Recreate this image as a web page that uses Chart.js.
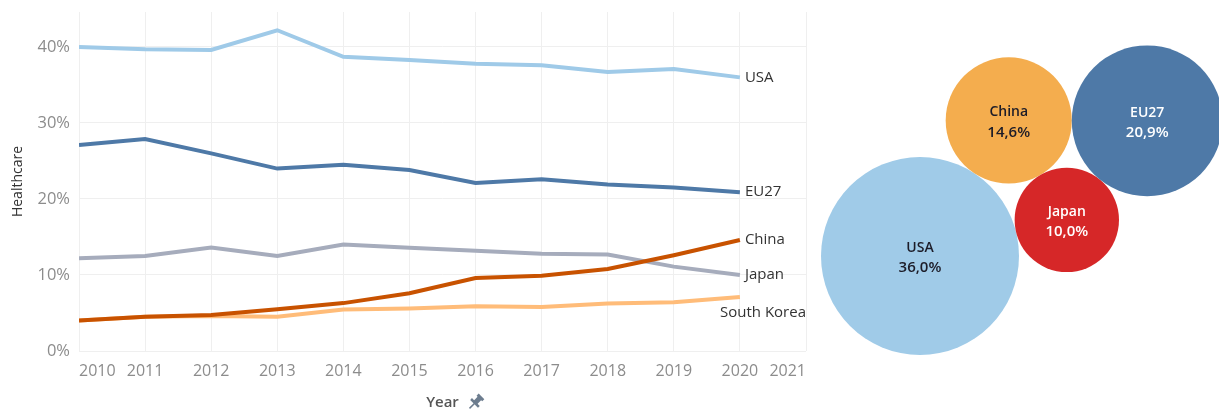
<!DOCTYPE html>
<html lang="en">
<head>
<meta charset="UTF-8">
<title>Healthcare share</title>
<style>
  body { margin: 0; background: #fff; }
  #lineChart { position: absolute; left: 0; top: 0; }
  #bubbleChart { position: absolute; left: 812px; top: 0; }
</style>
</head>
<body>
<canvas id="lineChart" width="812" height="410"></canvas>
<canvas id="bubbleChart" width="407" height="410"></canvas>

<script src="https://cdn.jsdelivr.net/npm/chart.js"></script>
<script>
// data (share of healthcare, %)
const years = [2010, 2011, 2012, 2013, 2014, 2015, 2016, 2017, 2018, 2019, 2020];
const usa = [40.0, 39.7, 39.6, 42.2, 38.7, 38.3, 37.8, 37.6, 36.7, 37.1, 36.0];
const eu27 = [27.1, 27.9, 26.0, 24.0, 24.5, 23.8, 22.1, 22.6, 21.9, 21.5, 20.9];
const china = [4.0, 4.5, 4.75, 5.5, 6.3, 7.6, 9.6, 9.9, 10.8, 12.6, 14.6];
const japan = [12.2, 12.5, 13.6, 12.5, 14.0, 13.6, 13.2, 12.8, 12.7, 11.1, 10.0];
const southKorea = [4.0, 4.5, 4.6, 4.5, 5.45, 5.6, 5.9, 5.8, 6.25, 6.4, 7.1];
const yTicks = [0, 10, 20, 30, 40];

// bubbles show the latest year
const bubbleNames = ['USA', 'China', 'Japan', 'EU27'];

Chart.defaults.font.family = "'Open Sans', sans-serif";
Chart.defaults.animation = false;

const colors = {
  'USA': '#9fcae8',
  'EU27': '#4e79a7',
  'China': '#c85200',
  'Japan': '#a6acbc',
  'South Korea': '#ffbc79'
};
const bubbleColors = { 'USA': '#a0cbe8', 'China': '#f4ad4e', 'Japan': '#d62728', 'EU27': '#4e79a7' };
const bubbleText = { 'USA': '#1c1c28', 'China': '#1c1c28', 'Japan': '#ffffff', 'EU27': '#ffffff' };

const seriesByName = { 'USA': usa, 'EU27': eu27, 'China': china, 'Japan': japan, 'South Korea': southKorea };
const lineOrder = ['USA', 'EU27', 'China', 'Japan', 'South Korea'];

function makeDataset(name) {
  return {
    label: name,
    data: years.map((y, i) => ({ x: y, y: seriesByName[name][i] })),
    borderColor: colors[name],
    borderWidth: 4,
    pointRadius: 0,
    tension: 0,
    fill: false
  };
}

// labels at the end of each line + pin next to axis title
const endLabels = {
  id: 'endLabels',
  afterDatasetsDraw(chart) {
    const ctx = chart.ctx;
    const area = chart.chartArea;
    ctx.save();
    ctx.font = "15px 'Open Sans'";
    ctx.fillStyle = '#333';
    ctx.textBaseline = 'middle';
    chart.data.datasets.forEach((ds, i) => {
      const pts = chart.getDatasetMeta(i).data;
      const p = pts[pts.length - 1];
      if (ds.label === 'South Korea') {
        ctx.textAlign = 'right';
        ctx.fillText(ds.label, area.right, p.y + 16);
      } else {
        ctx.textAlign = 'left';
        ctx.fillText(ds.label, p.x + 5, p.y);
      }
    });

    // little pushpin after "Year"
    ctx.font = "600 15px 'Open Sans'";
    const w = ctx.measureText('Year').width;
    const px = (area.left + area.right) / 2 + w / 2 + 17;
    const py = 402;
    ctx.translate(px, py);
    ctx.rotate(Math.PI / 4);
    ctx.fillStyle = '#6d7d8f';
    ctx.strokeStyle = '#6d7d8f';
    ctx.fillRect(-4, -8, 8, 3);
    ctx.fillRect(-2.5, -6, 5, 7);
    ctx.fillRect(-5.5, 0, 11, 2.5);
    ctx.lineWidth = 1.5;
    ctx.beginPath();
    ctx.moveTo(0, 2);
    ctx.lineTo(0, 9);
    ctx.stroke();
    ctx.restore();
  }
};

new Chart(document.getElementById('lineChart'), {
  type: 'line',
  data: { datasets: lineOrder.map(makeDataset) },
  options: {
    responsive: false,
    layout: { autoPadding: false, padding: { top: 12, right: 6, left: 0, bottom: 0 } },
    plugins: { legend: { display: false }, tooltip: { enabled: false } },
    scales: {
      x: {
        type: 'linear',
        min: 2010,
        max: 2021,
        afterFit(scale) {
          scale.height = 59;
          scale.paddingLeft = 0;
          scale.paddingRight = 0;
        },
        grid: { color: '#efefef', drawTicks: false },
        border: { display: false },
        ticks: {
          stepSize: 1,
          autoSkip: false,
          maxRotation: 0,
          align: 'inner',
          padding: 11,
          color: '#8c8c8c',
          font: { size: 16 },
          callback: v => String(v)
        },
        title: {
          display: true,
          text: 'Year',
          color: '#555',
          font: { size: 15, weight: '600' },
          padding: { top: 0, bottom: -2 }
        }
      },
      y: {
        min: 0,
        max: 44.6,
        afterFit(scale) {
          scale.width = 79;
          scale.paddingTop = 0;
          scale.paddingBottom = 0;
        },
        afterBuildTicks(scale) { scale.ticks = yTicks.map(v => ({ value: v })); },
        grid: { color: '#efefef', drawTicks: false },
        border: { display: false },
        ticks: {
          padding: 9,
          color: '#8c8c8c',
          font: { size: 16.5 },
          callback: v => v + '%'
        },
        title: {
          display: true,
          text: 'Healthcare',
          color: '#333',
          font: { size: 14 },
          padding: { top: 10, bottom: 0 }
        }
      }
    }
  },
  plugins: [endLabels]
});

// ---- packed bubbles: radius ~ sqrt(value), each one touching its neighbours ----
const latest = name => seriesByName[name][seriesByName[name].length - 1];
const radiusScale = 16.5;
const radii = bubbleNames.map(n => radiusScale * Math.sqrt(latest(n)));

function touching(a, b, r) {
  const dx = b.x - a.x, dy = b.y - a.y;
  const d = Math.hypot(dx, dy);
  const da = a.r + r, db = b.r + r;
  const along = (da * da - db * db + d * d) / (2 * d);
  const h = Math.sqrt(Math.max(0, da * da - along * along));
  const ux = dx / d, uy = dy / d;
  return { x: a.x + along * ux - h * uy, y: a.y + along * uy + h * ux, r: r };
}

const anchor = { x: 920, y: 256 };
const packAngle = -56.8 * Math.PI / 180;
const placed = [];
placed[0] = { x: anchor.x, y: anchor.y, r: radii[0] };
placed[1] = {
  x: anchor.x + (radii[0] + radii[1]) * Math.cos(packAngle),
  y: anchor.y + (radii[0] + radii[1]) * Math.sin(packAngle),
  r: radii[1]
};
placed[2] = touching(placed[0], placed[1], radii[2]);
placed[3] = touching(placed[2], placed[1], radii[3]);

const bubbleLabels = {
  id: 'bubbleLabels',
  afterDatasetsDraw(chart) {
    const ctx = chart.ctx;
    const pts = chart.getDatasetMeta(0).data;
    ctx.save();
    ctx.textAlign = 'center';
    ctx.textBaseline = 'middle';
    pts.forEach((p, i) => {
      const name = bubbleNames[i];
      ctx.fillStyle = bubbleText[name];
      ctx.font = "600 14px 'Open Sans'";
      ctx.fillText(name, p.x, p.y - 8);
      ctx.font = "600 15px 'Open Sans'";
      ctx.fillText(latest(name).toFixed(1).replace('.', ',') + '%', p.x, p.y + 12);
    });
    ctx.restore();
  }
};

new Chart(document.getElementById('bubbleChart'), {
  type: 'bubble',
  data: {
    datasets: [{
      data: placed.map(c => ({ x: c.x, y: c.y, r: c.r })),
      backgroundColor: bubbleNames.map(n => bubbleColors[n]),
      borderWidth: 0,
      hoverRadius: 0,
      clip: false
    }]
  },
  options: {
    responsive: false,
    layout: { autoPadding: false, padding: 0 },
    plugins: { legend: { display: false }, tooltip: { enabled: false } },
    scales: {
      x: { type: 'linear', display: false, min: 812, max: 1219 },
      y: { type: 'linear', display: false, min: 0, max: 410, reverse: true }
    }
  },
  plugins: [bubbleLabels]
});
</script>
</body>
</html>
